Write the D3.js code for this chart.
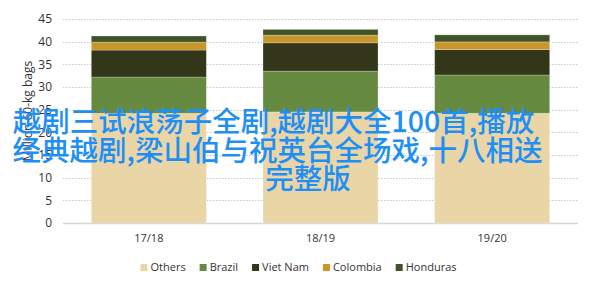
<!DOCTYPE html>
<html>
<head>
<meta charset="utf-8">
<script src="https://cdn.jsdelivr.net/npm/d3@7"></script>
<style>
  html, body { margin: 0; padding: 0; background: #fff; }
  svg { display: block; }
</style>
</head>
<body>
<svg id="chart" width="616" height="292"></svg>
<script>
// Coffee consumption by origin, million 60-kg bags
const categories = ["17/18", "18/19", "19/20"];
const seriesNames = ["Others", "Brazil", "Viet Nam", "Colombia", "Honduras"];
const others   = [24.2, 24.5, 24.2];
const brazil   = [8.0, 9.0, 8.45];
const vietNam  = [5.95, 6.25, 5.6];
const colombia = [1.75, 1.7, 1.7];
const honduras = [1.35, 1.25, 1.55];
const yTicks = [0, 5, 10, 15, 20, 25, 30, 35, 40, 45];
const seriesColors = ["#ead5a7", "#668b40", "#333618", "#c8962a", "#3f5327"];
const headline = [
  "越剧三试浪荡子全剧,越剧大全100首,播放",
  "经典越剧,梁山伯与祝英台全场戏,十八相送",
  "完整版"
];

const seriesValues = [others, brazil, vietNam, colombia, honduras];
const rows = categories.map((c, i) => {
  const r = { category: c };
  seriesNames.forEach((s, j) => { r[s] = seriesValues[j][i]; });
  return r;
});

const svg = d3.select("#chart");
const plot = { left: 63, right: 578, top: 19, bottom: 223 };
const axisFont = "'Open Sans', 'Noto Sans', sans-serif";

const x = d3.scaleBand()
  .domain(categories)
  .range([plot.left, plot.right])
  .paddingInner(0.33)
  .paddingOuter(0.165);

const y = d3.scaleLinear()
  .domain([0, 45])
  .range([plot.bottom, plot.top]);

const color = d3.scaleOrdinal().domain(seriesNames).range(seriesColors);

// Gridlines (dotted) and baseline
svg.append("g")
  .selectAll("line")
  .data(yTicks.filter(t => t > 0))
  .join("line")
  .attr("x1", plot.left).attr("x2", plot.right)
  .attr("y1", d => Math.round(y(d)) + 0.5).attr("y2", d => Math.round(y(d)) + 0.5)
  .attr("stroke", "#c8c8c8")
  .attr("stroke-width", 1)
  .attr("stroke-dasharray", "1.5,1.5");

svg.append("line")
  .attr("x1", plot.left).attr("x2", plot.right)
  .attr("y1", y(0) + 0.5).attr("y2", y(0) + 0.5)
  .attr("stroke", "#d6d6d6")
  .attr("stroke-width", 1.5);

// Y axis labels
const yAxis = d3.axisLeft(y).tickValues(yTicks).tickSize(0).tickPadding(0);
const yg = svg.append("g")
  .attr("transform", `translate(${plot.left - 11},0)`)
  .call(yAxis);
yg.select(".domain").remove();
yg.selectAll("text")
  .attr("font-family", axisFont)
  .attr("font-size", 12)
  .attr("fill", "#333");

// Y axis title
svg.append("text")
  .attr("transform", `translate(27,111) rotate(-90)`)
  .attr("text-anchor", "middle")
  .attr("dominant-baseline", "central")
  .attr("font-family", axisFont)
  .attr("font-size", 12)
  .attr("fill", "#333")
  .text("Million 60-kg bags");

// Stacked bars
const stacked = d3.stack().keys(seriesNames)(rows);
svg.append("g")
  .selectAll("g")
  .data(stacked)
  .join("g")
  .attr("fill", d => color(d.key))
  .selectAll("rect")
  .data(d => d)
  .join("rect")
  .attr("x", d => x(d.data.category))
  .attr("width", x.bandwidth())
  .attr("y", d => y(d[1]))
  .attr("height", d => y(d[0]) - y(d[1]))
  .attr("stroke", "#ffffff")
  .attr("stroke-opacity", 0.3)
  .attr("stroke-width", 0.8);

// X axis labels
const xAxis = d3.axisBottom(x).tickSize(0).tickPadding(0);
const xg = svg.append("g")
  .attr("transform", `translate(0,${plot.bottom + 11})`)
  .call(xAxis);
xg.select(".domain").remove();
xg.selectAll("text")
  .attr("font-family", axisFont)
  .attr("font-size", 11)
  .attr("fill", "#333");

// Legend
const legend = svg.append("g");
const items = legend.selectAll("g")
  .data(seriesNames)
  .join("g");
items.append("rect")
  .attr("width", 7).attr("height", 7)
  .attr("y", -6)
  .attr("fill", d => color(d));
items.append("text")
  .attr("x", 10)
  .attr("y", 0)
  .attr("dy", "0.05em")
  .attr("font-family", axisFont)
  .attr("font-size", 11)
  .attr("fill", "#333")
  .text(d => d);
let cursor = 0;
items.each(function () {
  const g = d3.select(this);
  g.attr("transform", `translate(${cursor},0)`);
  cursor += 10 + g.select("text").node().getComputedTextLength() + 14;
});
const legendWidth = cursor - 14;
legend.attr("transform", `translate(${298.5 - legendWidth / 2},${270})`);

// Headline text across the chart
const headG = svg.append("g")
  .attr("font-family", "'Noto Sans CJK SC', sans-serif")
  .attr("font-weight", 500)
  .attr("font-size", 28.5)
  .attr("fill", "#1e8ff5");
const headCenters = [273.5, 277.5, 308];
headG.selectAll("text")
  .data(headline)
  .join("text")
  .attr("x", (d, i) => headCenters[i])
  .attr("y", (d, i) => 132 + i * 28.5)
  .attr("text-anchor", "middle")
  .text(d => d);
</script>
</body>
</html>
